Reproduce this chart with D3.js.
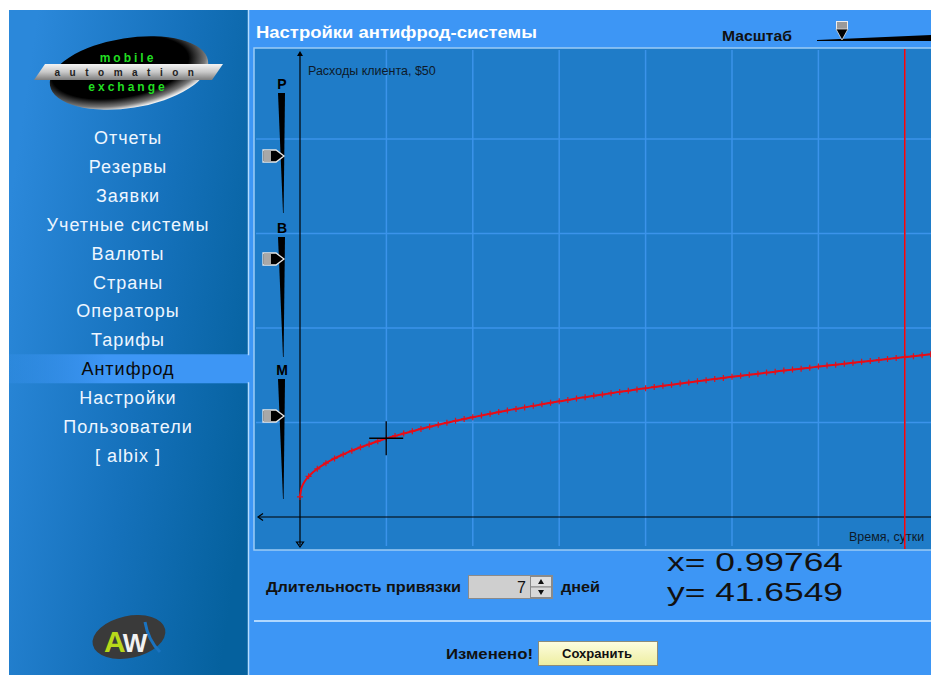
<!DOCTYPE html>
<html>
<head>
<meta charset="utf-8">
<script src="https://cdn.jsdelivr.net/npm/d3@7"></script>
<style>
  body { margin: 0; background: #fff; }
  svg { display: block; font-family: "Liberation Sans", Arial, sans-serif; }
</style>
</head>
<body>
<svg id="app" width="931" height="675"></svg>
<script>
// menu entries, the selected one is "Антифрод"
const menuItems = ["Отчеты", "Резервы", "Заявки", "Учетные системы", "Валюты", "Страны",
  "Операторы", "Тарифы", "Антифрод", "Настройки", "Пользователи", "[ albix ]"];
const selectedItem = "Антифрод";

// curve: client costs ($) against time (days)
const days = [0, 0.02, 0.05, 0.1, 0.2, 0.3, 0.4, 0.5, 0.6, 0.7, 0.8, 0.9,
  1.0, 1.1, 1.2, 1.3, 1.4, 1.5, 1.6, 1.7, 1.8, 1.9,
  2.0, 2.1, 2.2, 2.3, 2.4, 2.5, 2.6, 2.7, 2.8, 2.9,
  3.0, 3.1, 3.2, 3.3, 3.4, 3.5, 3.6, 3.7, 3.8, 3.9,
  4.0, 4.1, 4.2, 4.3, 4.4, 4.5, 4.6, 4.7, 4.8, 4.9,
  5.0, 5.1, 5.2, 5.3, 5.4, 5.5, 5.6, 5.7, 5.8, 5.9,
  6.0, 6.1, 6.2, 6.3, 6.4, 6.5, 6.6, 6.7, 6.8, 6.9,
  7.0, 7.1, 7.2, 7.3, 7.4];
const costs = [10.6, 15.8, 18.5, 21.5, 25.5, 28.5, 31.0, 33.1, 35.1, 36.9, 38.5, 40.1,
  41.6, 42.9, 44.2, 45.4, 46.6, 47.7, 48.8, 49.9, 50.9, 51.9,
  52.8, 53.7, 54.6, 55.5, 56.4, 57.2, 58.0, 58.8, 59.6, 60.4,
  61.2, 61.9, 62.7, 63.4, 64.1, 64.8, 65.5, 66.2, 66.8, 67.5,
  68.1, 68.8, 69.4, 70.0, 70.6, 71.2, 71.8, 72.4, 73.0, 73.6,
  74.2, 74.7, 75.3, 75.8, 76.4, 76.9, 77.5, 78.0, 78.5, 79.0,
  79.6, 80.1, 80.6, 81.1, 81.6, 82.1, 82.6, 83.1, 83.6, 84.1,
  84.6, 85.1, 85.6, 86.1, 86.6];

const gridDays = [0, 1, 2, 3, 4, 5, 6, 7, 8];
const gridCosts = [50, 100, 150, 200];
const bindDays = 7;
const cursor = { x: 0.99764, y: 41.6549 };
const sliders = [
  { label: "P", pos: 156 },
  { label: "B", pos: 259 },
  { label: "M", pos: 416 }
];

const svg = d3.select("#app");
const defs = svg.append("defs");

// ---------- sidebar ----------
const sideGrad = defs.append("linearGradient").attr("id", "side")
  .attr("x1", 0).attr("y1", 0.3).attr("x2", 1).attr("y2", 0.7);
sideGrad.append("stop").attr("offset", 0).attr("stop-color", "#2b88da");
sideGrad.append("stop").attr("offset", 0.55).attr("stop-color", "#1571bb");
sideGrad.append("stop").attr("offset", 1).attr("stop-color", "#05619e");

svg.append("rect").attr("x", 9).attr("y", 10).attr("width", 240).attr("height", 665)
  .attr("fill", "url(#side)");

// right panel background
svg.append("rect").attr("x", 249).attr("y", 10).attr("width", 682).attr("height", 665)
  .attr("fill", "#3d96f5");

// selected band
const selGrad = defs.append("linearGradient").attr("id", "sel");
selGrad.append("stop").attr("offset", 0).attr("stop-color", "#3d96f5").attr("stop-opacity", 0.2);
selGrad.append("stop").attr("offset", 0.4).attr("stop-color", "#3d96f5").attr("stop-opacity", 1);
selGrad.append("stop").attr("offset", 1).attr("stop-color", "#3d96f5");
const lineGrad = defs.append("linearGradient").attr("id", "selLine");
lineGrad.append("stop").attr("offset", 0).attr("stop-color", "#a8d4ff").attr("stop-opacity", 0);
lineGrad.append("stop").attr("offset", 0.5).attr("stop-color", "#a8d4ff").attr("stop-opacity", 0.9);
lineGrad.append("stop").attr("offset", 1).attr("stop-color", "#a8d4ff");

const menuY = d3.scalePoint().domain(menuItems).range([138, 456]);
const selY = menuY(selectedItem);
svg.append("rect").attr("x", 9).attr("y", selY - 15).attr("width", 241).attr("height", 29)
  .attr("fill", "url(#sel)");
svg.append("line").attr("x1", 9).attr("x2", 249).attr("y1", selY - 14.5).attr("y2", selY - 14.5)
  .attr("stroke", "url(#selLine)").attr("stroke-width", 1.5);
svg.append("line").attr("x1", 9).attr("x2", 249).attr("y1", selY + 13.5).attr("y2", selY + 13.5)
  .attr("stroke", "url(#selLine)").attr("stroke-width", 1.5);
svg.append("line").attr("x1", 248.5).attr("x2", 248.5).attr("y1", 10).attr("y2", selY - 14)
  .attr("stroke", "#b4dcff").attr("stroke-width", 1.5);
svg.append("line").attr("x1", 248.5).attr("x2", 248.5).attr("y1", selY + 13).attr("y2", 675)
  .attr("stroke", "#b4dcff").attr("stroke-width", 1.5);

svg.append("g").selectAll("text").data(menuItems).join("text")
  .attr("x", 128).attr("y", d => menuY(d) + 6)
  .attr("text-anchor", "middle")
  .style("font-size", "18px").style("letter-spacing", "1px")
  .attr("fill", d => d === selectedItem ? "#0a0a0a" : "#eef6ff")
  .text(d => d);

// mobile automation exchange logo
const rimGrad = defs.append("radialGradient").attr("id", "rim")
  .attr("cx", 0.45).attr("cy", 0.4).attr("r", 0.6);
rimGrad.append("stop").attr("offset", 0).attr("stop-color", "#000");
rimGrad.append("stop").attr("offset", 0.72).attr("stop-color", "#000");
rimGrad.append("stop").attr("offset", 0.9).attr("stop-color", "#777");
rimGrad.append("stop").attr("offset", 1).attr("stop-color", "#eee");
const barGrad = defs.append("linearGradient").attr("id", "bar").attr("x1", 0).attr("y1", 0).attr("x2", 0).attr("y2", 1);
barGrad.append("stop").attr("offset", 0).attr("stop-color", "#f4f4f4");
barGrad.append("stop").attr("offset", 0.5).attr("stop-color", "#c8c8c8");
barGrad.append("stop").attr("offset", 1).attr("stop-color", "#7d7d7d");

const logo = svg.append("g");
logo.append("ellipse").attr("cx", 129).attr("cy", 73).attr("rx", 80).attr("ry", 35)
  .attr("transform", "rotate(-9 129 73)").attr("fill", "url(#rim)");
logo.append("path").attr("d", "M45,64 L223,64 L212,80 L34,80 Z").attr("fill", "url(#bar)");
logo.append("text").attr("x", 128).attr("y", 62).attr("text-anchor", "middle")
  .style("font-size", "12px").style("font-weight", "bold").style("letter-spacing", "3px")
  .attr("fill", "#22dd22").text("mobile");
logo.append("text").attr("x", 129).attr("y", 76).attr("text-anchor", "middle")
  .style("font-size", "10px").style("font-weight", "bold").style("letter-spacing", "9.5px")
  .attr("fill", "#222").text("automation");
logo.append("text").attr("x", 128).attr("y", 91).attr("text-anchor", "middle")
  .style("font-size", "12px").style("font-weight", "bold").style("letter-spacing", "3px")
  .attr("fill", "#22dd22").text("exchange");

// AW logo
const aw = svg.append("g");
aw.append("ellipse").attr("cx", 129).attr("cy", 637).attr("rx", 37).attr("ry", 21)
  .attr("transform", "rotate(-12 129 637)").attr("fill", "#3a3a3a");
aw.append("path").attr("d", "M145,622 Q148,640 160,652").attr("fill", "none")
  .attr("stroke", "#1a73c0").attr("stroke-width", 3);
const awText = aw.append("text").attr("x", 104).attr("y", 652)
  .style("font-weight", "bold").style("letter-spacing", "-3px");
awText.append("tspan").style("font-size", "30px").attr("fill", "#b8d81a").text("A");
awText.append("tspan").style("font-size", "26px").attr("fill", "#f2f2f2").text("W");

// ---------- header ----------
svg.append("text").attr("x", 256).attr("y", 38)
  .style("font-size", "16px").style("font-weight", "bold").attr("fill", "#fff")
  .attr("textLength", 281).attr("lengthAdjust", "spacingAndGlyphs")
  .text("Настройки антифрод-системы");
svg.append("text").attr("x", 722).attr("y", 41)
  .style("font-size", "14px").style("font-weight", "bold").attr("fill", "#111")
  .attr("textLength", 70).attr("lengthAdjust", "spacingAndGlyphs")
  .text("Масштаб");
// zoom slider
svg.append("path").attr("d", "M817,40 L931,35 L931,41 L817,41 Z").attr("fill", "#000");
svg.append("rect").attr("x", 836.5).attr("y", 21.5).attr("width", 11).attr("height", 8)
  .attr("fill", "#9a9a9a").attr("stroke", "#eee");
svg.append("path").attr("d", "M836,29 L848,29 L842,40 Z").attr("fill", "#000").attr("stroke", "#ddd").attr("stroke-width", 0.8);

// ---------- chart panel ----------
const panel = { x: 254, y: 48, w: 690, h: 502 };
svg.append("rect").attr("x", panel.x).attr("y", panel.y).attr("width", panel.w).attr("height", panel.h)
  .attr("fill", "#1f7cc8").attr("stroke", "#9ccbf5").attr("stroke-width", 1.5);

defs.append("clipPath").attr("id", "clip").append("rect")
  .attr("x", panel.x + 1).attr("y", panel.y + 1).attr("width", panel.w).attr("height", panel.h - 2);

const x = d3.scaleLinear().domain([0, 7]).range([300, 904.8]);
const y = d3.scaleLinear().domain([0, 200]).range([517, 139]);

const chart = svg.append("g").attr("clip-path", "url(#clip)");

// grid
chart.append("g").selectAll("line").data(gridDays.slice(1)).join("line")
  .attr("x1", d => x(d)).attr("x2", d => x(d))
  .attr("y1", panel.y + 2).attr("y2", panel.y + panel.h - 4)
  .attr("stroke", "#3b93ea").attr("stroke-width", 1.5);
chart.append("g").selectAll("line").data(gridCosts).join("line")
  .attr("x1", panel.x + 2).attr("x2", 931)
  .attr("y1", d => y(d)).attr("y2", d => y(d))
  .attr("stroke", "#3b93ea").attr("stroke-width", 1.5);

// axes
chart.append("line").attr("x1", x(0)).attr("x2", x(0)).attr("y1", 53).attr("y2", 545)
  .attr("stroke", "#000").attr("stroke-width", 1.2);
chart.append("path").attr("d", `M${x(0) - 3},56 L${x(0)},51 L${x(0) + 3},56 Z`).attr("fill", "#000");
chart.append("path").attr("d", `M${x(0) - 3.5},542 L${x(0) + 3.5},542 L${x(0)},547 Z`)
  .attr("fill", "none").attr("stroke", "#000").attr("stroke-width", 1.2);
chart.append("line").attr("x1", 259).attr("x2", 931).attr("y1", y(0)).attr("y2", y(0))
  .attr("stroke", "#000").attr("stroke-width", 1.2);
chart.append("path").attr("d", `M263,${y(0) - 3.5} L258,${y(0)} L263,${y(0) + 3.5}`)
  .attr("fill", "none").attr("stroke", "#000").attr("stroke-width", 1.2);

chart.append("text").attr("x", 308).attr("y", 75).style("font-size", "12.5px").attr("fill", "#0d1a2a")
  .text("Расходы клиента, $50");
chart.append("text").attr("x", 849).attr("y", 541).style("font-size", "12.5px").attr("fill", "#0d1a2a")
  .text("Время, сутки");

// sliders P/B/M
const sl = svg.append("g");
sliders.forEach((s, i) => {
  const top = [93, 237, 379][i];
  sl.append("text").attr("x", 282).attr("y", top - 4).attr("text-anchor", "middle")
    .style("font-size", "14px").style("font-weight", "bold").attr("fill", "#000").text(s.label);
  sl.append("path").attr("d", `M278,${top} L285,${top} L283.6,${top + 120} L283,${top + 120} Z`)
    .attr("fill", "#000");
  sl.append("path")
    .attr("d", `M263,${s.pos - 6} L276,${s.pos - 6} L284,${s.pos} L276,${s.pos + 6} L263,${s.pos + 6} Z`)
    .attr("fill", "#000").attr("stroke", "#e6e6e6").attr("stroke-width", 1.3);
  sl.append("rect").attr("x", 264).attr("y", s.pos - 5).attr("width", 7).attr("height", 10).attr("fill", "#a8a8a8");
});

// red vertical line at binding duration
chart.append("line").attr("x1", x(bindDays)).attr("x2", x(bindDays))
  .attr("y1", panel.y + 1).attr("y2", panel.y + panel.h)
  .attr("stroke", "#ff0000").attr("stroke-width", 1.5);

// curve
const pts = days.map((d, i) => [d, costs[i]]);
chart.append("path").datum(pts)
  .attr("d", d3.line().x(d => x(d[0])).y(d => y(d[1])).curve(d3.curveCatmullRom))
  .attr("fill", "none").attr("stroke", "#ee0a14").attr("stroke-width", 2);
chart.append("g").selectAll("path").data(pts.filter(d => d[0] >= 0.1 || d[0] === 0)).join("path")
  .attr("d", d => `M${x(d[0]) - 3},${y(d[1])}h6M${x(d[0])},${y(d[1]) - 3}v6`)
  .attr("stroke", "#e0101a").attr("stroke-width", 1.2);

// cursor crosshair
const cx = x(cursor.x), cy = y(cursor.y);
chart.append("path").attr("d", `M${cx - 17},${cy}H${cx + 17}M${cx},${cy - 17}V${cy + 17}`)
  .attr("stroke", "#000").attr("stroke-width", 1.3);

// ---------- bottom controls ----------
svg.append("text").attr("x", 266).attr("y", 592)
  .style("font-size", "14px").style("font-weight", "bold").attr("fill", "#111")
  .attr("textLength", 195).attr("lengthAdjust", "spacingAndGlyphs")
  .text("Длительность привязки");
svg.append("rect").attr("x", 468.5).attr("y", 575.5).attr("width", 84).attr("height", 23)
  .attr("fill", "#cfcfcf").attr("stroke", "#8a8a8a");
svg.append("text").attr("x", 526).attr("y", 593).attr("text-anchor", "end")
  .style("font-size", "16px").attr("fill", "#111").text(bindDays);
svg.append("rect").attr("x", 530.5).attr("y", 576.5).attr("width", 21).attr("height", 10.5)
  .attr("fill", "#e0e0e0").attr("stroke", "#8a8a8a");
svg.append("rect").attr("x", 530.5).attr("y", 587).attr("width", 21).attr("height", 10.5)
  .attr("fill", "#d8d8d8").attr("stroke", "#8a8a8a");
svg.append("path").attr("d", "M538,584 L541,579 L544,584 Z").attr("fill", "#111");
svg.append("path").attr("d", "M538,590 L544,590 L541,595 Z").attr("fill", "#111");
svg.append("text").attr("x", 561).attr("y", 592)
  .style("font-size", "14px").style("font-weight", "bold").attr("fill", "#111")
  .attr("textLength", 39).attr("lengthAdjust", "spacingAndGlyphs").text("дней");

svg.append("text").attr("x", 667).attr("y", 571)
  .style("font-size", "25px").attr("fill", "#111")
  .attr("textLength", 176).attr("lengthAdjust", "spacingAndGlyphs")
  .text("x= " + cursor.x);
svg.append("text").attr("x", 667).attr("y", 601)
  .style("font-size", "25px").attr("fill", "#111")
  .attr("textLength", 176).attr("lengthAdjust", "spacingAndGlyphs")
  .text("y= " + cursor.y);

svg.append("line").attr("x1", 254).attr("x2", 931).attr("y1", 621).attr("y2", 621)
  .attr("stroke", "#b0d8ff").attr("stroke-width", 2);

svg.append("text").attr("x", 446).attr("y", 659)
  .style("font-size", "15px").style("font-weight", "bold").attr("fill", "#111")
  .attr("textLength", 87).attr("lengthAdjust", "spacingAndGlyphs").text("Изменено!");
const btnGrad = defs.append("linearGradient").attr("id", "btn").attr("x1", 0).attr("y1", 0).attr("x2", 0).attr("y2", 1);
btnGrad.append("stop").attr("offset", 0).attr("stop-color", "#fdfde0");
btnGrad.append("stop").attr("offset", 1).attr("stop-color", "#eeeea0");
svg.append("rect").attr("x", 538.5).attr("y", 641.5).attr("width", 119).attr("height", 24)
  .attr("fill", "url(#btn)").attr("stroke", "#8c8c7a");
svg.append("text").attr("x", 597).attr("y", 658).attr("text-anchor", "middle")
  .style("font-size", "12px").style("font-weight", "bold").attr("fill", "#111")
  .attr("textLength", 70).attr("lengthAdjust", "spacingAndGlyphs").text("Сохранить");
</script>
</body>
</html>
